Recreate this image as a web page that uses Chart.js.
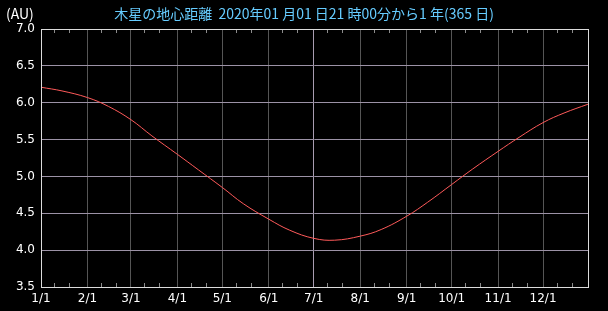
<!DOCTYPE html>
<html>
<head>
<meta charset="utf-8">
<script src="https://cdn.jsdelivr.net/npm/chart.js@4/dist/chart.umd.min.js"></script>
<style>
  html, body { margin: 0; padding: 0; background: #000; }
  #wrap { width: 608px; height: 311px; }
</style>
</head>
<body>
<div id="wrap"><canvas id="c"></canvas></div>
<script>
// day of year (0 = 1/1) and geocentric distance of Jupiter (AU)
const days = [0, 14, 31, 45, 60, 74, 91, 105, 121, 135, 152, 166, 182, 196, 213, 227, 244, 258, 274, 288, 305, 319, 335, 349, 365];
const distance = [6.21, 6.16, 6.07, 5.95, 5.77, 5.55, 5.30, 5.09, 4.85, 4.63, 4.42, 4.27, 4.16, 4.135, 4.19, 4.28, 4.46, 4.65, 4.89, 5.10, 5.34, 5.53, 5.73, 5.86, 5.98];

const monthDays = [0, 31, 60, 91, 121, 152, 182, 213, 244, 274, 305, 335];
const monthLabels = ['1/1', '2/1', '3/1', '4/1', '5/1', '6/1', '7/1', '8/1', '9/1', '10/1', '11/1', '12/1'];
// small ticks on the 10th and 20th of each month
const minorDays = [9, 19, 40, 50, 69, 79, 100, 110, 130, 140, 161, 171, 191, 201, 222, 232, 253, 263, 283, 293, 314, 324, 344, 354];

const titleText = '木星の地心距離  2020年01 月01 日21 時00分から1 年(365 日)';
const unitText = '(AU)';

const points = days.map((d, i) => ({ x: d, y: distance[i] }));

const frame = {
  id: 'frame',
  afterDraw(chart) {
    const { ctx, chartArea: a, scales } = chart;
    ctx.save();
    // minor ticks, top and bottom
    ctx.strokeStyle = '#8c8c8c';
    ctx.lineWidth = 1;
    minorDays.forEach(d => {
      const x = Math.round(scales.x.getPixelForValue(d)) + 0.5;
      ctx.beginPath();
      ctx.moveTo(x, a.top); ctx.lineTo(x, a.top + 4);
      ctx.moveTo(x, a.bottom); ctx.lineTo(x, a.bottom - 4);
      ctx.stroke();
    });
    // border
    ctx.strokeStyle = '#dcdcdc';
    ctx.strokeRect(Math.round(a.left) + 0.5, Math.round(a.top) + 0.5,
      Math.round(a.right - a.left), Math.round(a.bottom - a.top));
    // texts
    ctx.font = '14px "Noto Sans CJK JP", sans-serif';
    ctx.textBaseline = 'middle';
    ctx.fillStyle = '#ffffff';
    ctx.textAlign = 'left';
    ctx.fillText(unitText, 6, 14);
    ctx.fillStyle = '#66ccff';
    ctx.textAlign = 'center';
    ctx.fillText(titleText, 304, 14);
    ctx.restore();
  }
};

new Chart(document.getElementById('c'), {
  type: 'line',
  data: {
    datasets: [{
      data: points,
      borderColor: '#ff5a5a',
      borderWidth: 1,
      pointRadius: 0,
      tension: 0.4,
      fill: false
    }]
  },
  options: {
    responsive: true,
    maintainAspectRatio: false,
    animation: false,
    events: [],
    layout: { padding: { top: 29, right: 20, left: 0, bottom: 0 } },
    plugins: {
      legend: { display: false },
      tooltip: { enabled: false }
    },
    scales: {
      x: {
        type: 'linear',
        min: 0,
        max: 365,
        afterBuildTicks(scale) {
          scale.ticks = monthDays.map(v => ({ value: v }));
        },
        afterFit(scale) { scale.height = 24; },
        border: { display: false },
        grid: {
          drawTicks: false,
          color: ctx => ctx.tick && ctx.tick.value === 182 ? '#a89cb0' : '#555555',
          lineWidth: 1
        },
        ticks: {
          color: '#ffffff',
          padding: 5,
          maxRotation: 0,
          autoSkip: false,
          font: { family: 'DejaVu Sans', size: 12 },
          callback: (v) => monthLabels[monthDays.indexOf(v)]
        }
      },
      y: {
        min: 3.5,
        max: 7.0,
        afterFit(scale) { scale.width = 41; },
        border: { display: false },
        grid: {
          drawTicks: false,
          color: '#9c92a6',
          lineWidth: 1
        },
        ticks: {
          stepSize: 0.5,
          color: '#ffffff',
          padding: 6,
          font: { family: 'DejaVu Sans', size: 12 },
          callback: v => v.toFixed(1)
        }
      }
    }
  },
  plugins: [frame]
});
</script>
</body>
</html>
